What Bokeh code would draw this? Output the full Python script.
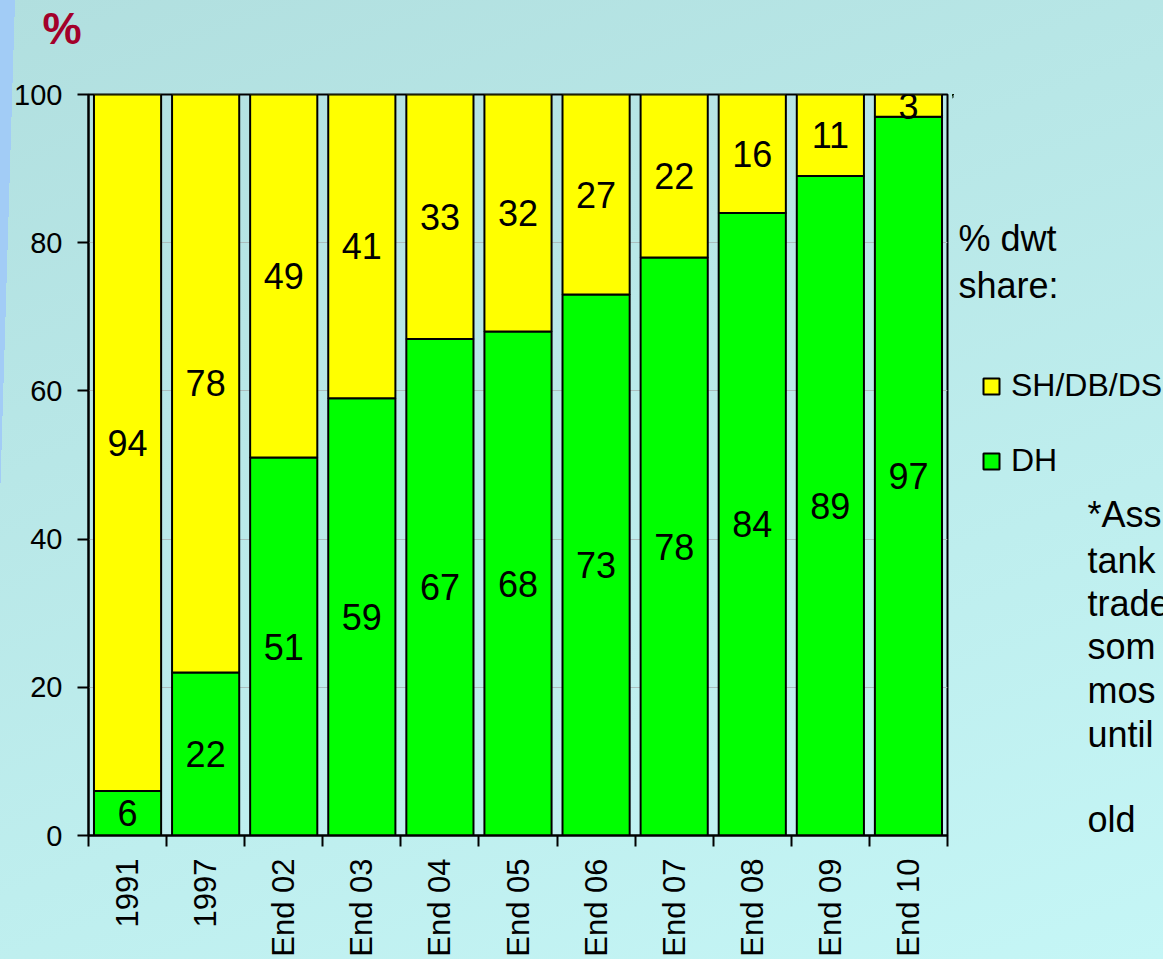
import math

from bokeh.core.properties import value
from bokeh.embed import file_html
from bokeh.layouts import row
from bokeh.models import ColumnDataSource, FixedTicker, Label, Legend, LegendItem, Range1d
from bokeh.plotting import figure
from bokeh.resources import INLINE

# Tanker fleet: share of deadweight tonnage by hull type (%)
categories = ["1991", "1997", "End 02", "End 03", "End 04", "End 05",
              "End 06", "End 07", "End 08", "End 09", "End 10"]
dh_share = [6, 22, 51, 59, 67, 68, 73, 78, 84, 89, 97]
sh_db_ds_share = [94, 78, 49, 41, 33, 32, 27, 22, 16, 11, 3]
y_ticks = [0, 20, 40, 60, 80, 100]
series_names = ["SH/DB/DS", "DH"]
legend_heading = ["% dwt", "share:"]
note_lines = ["*Ass", "tank", "trade", "som", "mos", "until", "old"]

FONT = "Liberation Sans"
YELLOW = "#ffff00"
GREEN = "#00ff00"

W, H = 1163, 959
MAIN_W = 952
LEFT, RIGHT, TOP, BOTTOM = 88, 5, 94, 123

n = len(categories)
centers = [i + 0.5 for i in range(n)]

source = ColumnDataSource(dict(
    x=centers,
    cat=categories,
    DH=dh_share,
    SH=sh_db_ds_share,
    dh_mid=[d / 2 for d in dh_share],
    sh_mid=[d + s / 2 for d, s in zip(dh_share, sh_db_ds_share)],
    dh_txt=[str(v) for v in dh_share],
    sh_txt=[str(v) for v in sh_db_ds_share],
))

# ---------------------------------------------------------------- main chart
# the title is centred in its panel, so a blank second line lifts the "%"
p = figure(width=MAIN_W, height=H, x_range=Range1d(0, n), y_range=Range1d(0, 100),
           output_backend="svg", toolbar_location=None, title="%\n\u00a0",
           min_border_left=LEFT, min_border_right=RIGHT,
           min_border_top=TOP, min_border_bottom=BOTTOM)
p.background_fill_color = None
p.border_fill_color = None
p.outline_line_color = "black"
p.outline_line_width = 2

p.title.align = "left"
p.title.vertical_align = "bottom"
p.title.offset = -46
p.title.standoff = 0
p.title.text_line_height = 0.85
p.title.text_font = FONT
p.title.text_font_size = "44px"
p.title.text_font_style = "bold"
p.title.text_color = "#a3002a"

# gridlines
p.xgrid.visible = False
p.ygrid.ticker = FixedTicker(ticks=y_ticks)
p.ygrid.grid_line_color = "#aabdbd"
p.ygrid.grid_line_width = 1

# stacked bars
bars = p.vbar_stack(["DH", "SH"], x="x", width=0.86, source=source,
                    fill_color=[GREEN, YELLOW], line_color="black", line_width=2)

# value labels inside each segment
for ycol, tcol in (("dh_mid", "dh_txt"), ("sh_mid", "sh_txt")):
    p.text(x="x", y=ycol, text=tcol, source=source, text_align="center",
           text_baseline="middle", text_font=value(FONT), text_font_size="36px",
           text_color="black")

# y axis
yax = p.yaxis[0]
yax.ticker = FixedTicker(ticks=y_ticks, minor_ticks=[])
yax.axis_line_color = "black"
yax.axis_line_width = 2
yax.major_tick_line_color = "black"
yax.major_tick_line_width = 2
yax.major_tick_out = 11
yax.major_tick_in = 0
yax.minor_tick_line_color = None
yax.major_label_standoff = 15
yax.major_label_text_font = FONT
yax.major_label_text_font_size = "29px"
yax.major_label_text_color = "black"

# x axis: labels at bar centres, tick marks between categories
xax = p.xaxis[0]
xax.ticker = FixedTicker(ticks=centers, minor_ticks=list(range(n + 1)))
xax.major_label_overrides = {c: lab for c, lab in zip(centers, categories)}
xax.axis_line_color = "black"
xax.axis_line_width = 2
xax.major_tick_out = 0
xax.major_tick_in = 0
xax.minor_tick_out = 11
xax.minor_tick_in = 0
xax.minor_tick_line_color = "black"
xax.minor_tick_line_width = 2
xax.major_label_orientation = math.pi / 2
xax.major_label_standoff = 12
xax.major_label_text_font = FONT
xax.major_label_text_font_size = "31px"
xax.major_label_text_color = "black"

# ---------------------------------------------------------------- side panel
# legend and notes; the row lines this frame up with the main frame
# vertically, so coordinates here are page pixels (y grows downward)
FRAME_TOP, FRAME_BOTTOM = TOP, H - BOTTOM
side = figure(width=W - MAIN_W, height=H, x_range=Range1d(MAIN_W, W),
              y_range=Range1d(FRAME_BOTTOM, FRAME_TOP),
              output_backend="svg", toolbar_location=None,
              x_axis_type=None, y_axis_type=None, min_border=0)
side.background_fill_color = None
side.border_fill_color = None
side.outline_line_color = None
side.xgrid.visible = False
side.ygrid.visible = False

# legend swatches share the bar data; their x lies outside this panel's range
sw_sh = side.vbar(x="x", top="SH", width=0.86, source=source,
                  fill_color=YELLOW, line_color="black", line_width=2)
sw_dh = side.vbar(x="x", top="DH", width=0.86, source=source,
                  fill_color=GREEN, line_color="black", line_width=2)

legend = Legend(
    items=[LegendItem(label=series_names[0], renderers=[sw_sh]),
           LegendItem(label=series_names[1], renderers=[sw_dh])],
    location=(981 - MAIN_W, FRAME_BOTTOM - 480),
    orientation="vertical",
    border_line_color=None, background_fill_alpha=0,
    padding=0, margin=0, spacing=38, label_height=36,
    glyph_width=20, glyph_height=20, label_standoff=10,
    label_text_font=FONT, label_text_font_size="32px", label_text_color="black",
)
side.add_layout(legend)


def text_at(txt, px, py, size):
    side.add_layout(Label(x=px, y=py, text=txt, text_font=FONT, text_font_size=size,
                          text_color="black", text_align="left", text_baseline="middle"))


for line, ly in zip(legend_heading, [238, 285]):
    text_at(line, 958, ly, "36px")

note_y = [515, 561, 604, 647, 691, 735, 820]
for line, ly in zip(note_lines, note_y):
    text_at(line, 1087, ly, "36px")

# ---------------------------------------------------------------- page
page = row(p, side, spacing=0)
page.styles = {"background": "linear-gradient(91.72deg, #a2ccf6 15px, rgba(0,0,0,0) 15px), "
                             "linear-gradient(160deg, #b1dfdf 0%, #c5f6f6 100%)"}

open("out.html", "w").write(file_html(page, INLINE))
